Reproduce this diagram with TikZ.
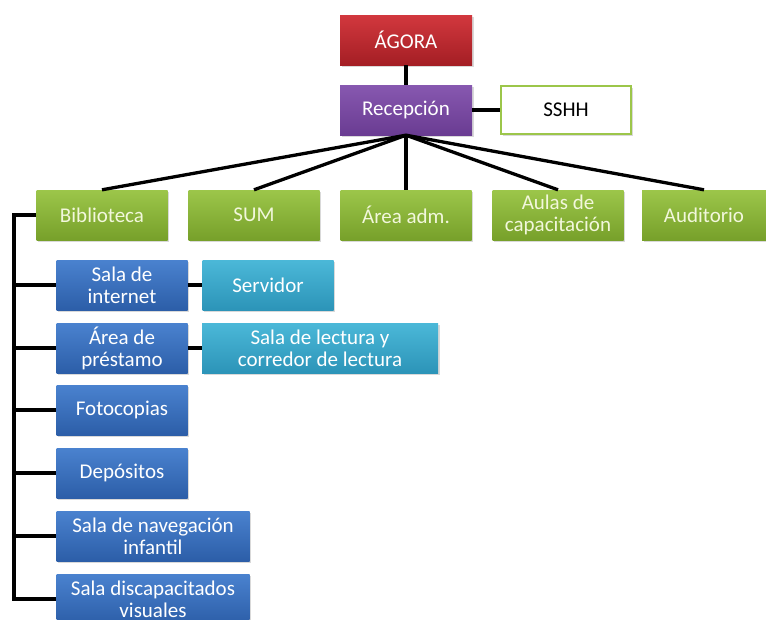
\documentclass[tikz,border=0pt]{standalone}
\usepackage{fontspec}
\setmainfont{Carlito}
\usetikzlibrary{shadows}
\definecolor{redT}{HTML}{D2383E}\definecolor{redB}{HTML}{A41E24}
\definecolor{purT}{HTML}{8758B0}\definecolor{purB}{HTML}{6A3C92}
\definecolor{grnT}{HTML}{9CC64A}\definecolor{grnB}{HTML}{77A02A}
\definecolor{bluT}{HTML}{4A82CF}\definecolor{bluB}{HTML}{2C5EA8}
\definecolor{cyaT}{HTML}{4BB8D8}\definecolor{cyaB}{HTML}{2C94B8}
\definecolor{grnTxt}{HTML}{F2F7DC}
\tikzset{
  x=1pt,y=-1pt,
  box/.style={draw=none,minimum height=50pt,inner sep=1pt,align=center,
    font=\fontsize{21}{23}\selectfont,text=white,
    drop shadow={shadow xshift=1.5pt,shadow yshift=-1.5pt,opacity=0.3}},
  redbox/.style={box,top color=redT,bottom color=redB},
  purbox/.style={box,top color=purT,bottom color=purB},
  grnbox/.style={box,top color=grnT,bottom color=grnB,text=grnTxt},
  blubox/.style={box,top color=bluT,bottom color=bluB},
  cyabox/.style={box,top color=cyaT,bottom color=cyaB},
  whtbox/.style={box,fill=white,draw=grnT,line width=1.2pt,text=black},
  conn/.style={line width=3.3pt,black}
}
\begin{document}
\begin{tikzpicture}
\useasboundingbox (0,0) rectangle (766,619);
\clip (0,0) rectangle (766,619);
% top
\node[redbox,minimum width=132pt] (agora) at (406,40) {ÁGORA};
\node[purbox,minimum width=132pt] (recep) at (406,110) {Recepción};
\node[whtbox,minimum width=130pt,minimum height=48pt] (sshh) at (566,110) {SSHH};
% green row
\node[grnbox,minimum width=131pt] (bib) at (102,215) {Biblioteca};
\node[grnbox,minimum width=131pt] (sum) at (254,215) {SUM};
\node[grnbox,minimum width=131pt] (adm) at (406,215) {Área adm.};
\node[grnbox,minimum width=131pt] (aulas) at (558,215) {Aulas de\\[-1pt]capacitación};
\node[grnbox,minimum width=124pt] (aud) at (704,215) {Auditorio};
% blue column
\node[blubox,minimum width=131pt] (inter) at (122,285) {Sala de\\[-1pt]internet};
\node[blubox,minimum width=131pt] (prest) at (122,348) {Área de\\[-1pt]préstamo};
\node[blubox,minimum width=131pt] (foto) at (122,410) {Fotocopias};
\node[blubox,minimum width=131pt] (depo) at (122,473) {Depósitos};
\node[blubox,minimum width=193pt] (nav) at (153,536) {Sala de navegación\\[-1pt]infantil};
\node[blubox,minimum width=193pt] (disc) at (153,599) {Sala discapacitados\\[-1pt]visuales};
% cyan
\node[cyabox,minimum width=131pt] (serv) at (268,285) {Servidor};
\node[cyabox,minimum width=236pt] (lect) at (320,348) {Sala de lectura y\\[-1pt]corredor de lectura};
% connectors
\draw[conn] (agora.south) -- (recep.north);
\draw[conn] (recep.east) -- (sshh.west);
\foreach \t in {bib,sum,adm,aulas,aud}{\draw[conn] (recep.south) -- (\t.north);}
\coordinate (spine) at (14,0);
\draw[conn] (bib.west) -- (bib.west -| spine) -- (disc.west -| spine) -- (disc.west);
\foreach \t in {inter,prest,foto,depo,nav}{\draw[conn] (\t.west -| spine) -- (\t.west);}
\draw[conn] (inter.east) -- (serv.west);
\draw[conn] (prest.east) -- (lect.west);
\end{tikzpicture}
\end{document}
